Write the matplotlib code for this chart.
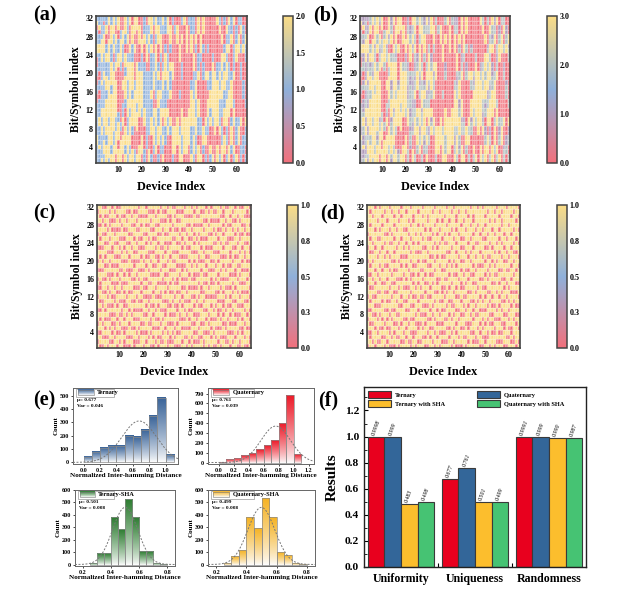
import numpy as np
import matplotlib
matplotlib.use('Agg')
import matplotlib.pyplot as plt
from matplotlib.colors import LinearSegmentedColormap, to_rgb
from matplotlib.patches import Rectangle

plt.rcParams['font.family'] = ['Liberation Serif', 'DejaVu Serif']
plt.rcParams['font.weight'] = 'bold'
plt.rcParams['axes.labelweight'] = 'bold'

# ---------------- data ----------------
# (a) ternary responses, columns = devices 1..64, chars = rows 1..32 (bottom->top)
ternary_cols = [
"11112211 11111001 10011001 22111021", "11121111 22111100 11001111 22110211",
"21111122 11221111 12111122 22211111", "11222111 22221111 11221111 22221101",
"22221122 22222211 22211122 11002211", "12222222 11222222 22111122 22200022",
"22112222 22222221 12222211 11222211", "22221112 22222222 22221100 22112222",
"00222221 11222222 22002211 11220011", "22200222 21100000 00000222 11100222",
"22222001 10000000 00001122 22211000", "00222200 22111000 22000011 11222000",
"22112222 00001122 22211222 00112222", "11222211 11222211 11222211 00221111",
"22112222 22112222 22222211 22000022", "22200011 22222211 22222211 11222200",
"11100000 22222222 11000000 22002222", "22000002 22211222 22222200 00000222",
"22220000 00222222 22221100 00222200", "00222200 00112222 22221111 22200000",
"11100000 22221111 11111100 00221111", "00011111 11111111 11110022 22111100",
"22200011 11111111 11110000 11221122", "11000022 22111122 11111111 22112222",
"00112222 11220000 22221111 00000011", "00221111 22220011 11112222 22112222",
"11002222 11112222 11221100 00222211", "00111122 22221122 11000011 22221111",
"22112211 00221111 22221100 00001122", "00001111 22221111 11222222 11001111",
"00000022 11220011 22221111 00002222", "00000011 22000022 11112200 11222200",
"11222222 00000000 00222200 00000011", "00222222 00000000 00000000 00001100",
"00002222 22000000 00000000 00222200", "22222211 00000011 00000022 22000000",
"22111122 22220000 00111100 00220011", "00222222 22000000 00000000 00000022",
"00222222 22000000 00000000 22222200", "00002222 22220000 00000000 00000011",
"22111111 22222222 11000000 22221111", "11222211 22222211 11112222 00001111",
"00111122 22111122 22110000 11220000", "22220011 11222200 00221111 00002222",
"22000011 11000000 00000011 22220000", "00112222 00000000 00111100 11002222",
"11002211 22000000 00220000 00000000", "00000011 11222200 11220000 11000000",
"11220000 22112222 11110000 00000000", "22000000 11222222 22222211 00000000",
"00000022 22222222 22220000 00000000", "22220000 22222222 22111100 00000022",
"11000022 11111122 11221100 00002211", "22221111 00111122 22112222 00220000",
"00222200 22221111 22221122 11000011", "11001111 22222211 11222211 22112200",
"22220000 00222222 11111100 22111122", "00112222 11002222 22110000 00221111",
"11220000 22221100 00221111 11000022", "22001111 11000000 00000022 22111100",
"00002222 11000000 00000000 22220011", "11110000 22000000 00111100 11002211",
"00111100 00000011 11000000 22111100", "11001111 22001100 00000011 11220000",
]

# (b) quaternary responses, same layout
quaternary_cols = [
"11122311 22221001 10012001 33212031", "21131122 33211100 21002211 33120311",
"32112233 11332211 23111133 33322121", "12333211 33331122 21332211 33331101",
"33332233 33333322 33322133 22003322", "23333333 22333333 33212233 33300033",
"33223333 33333332 23333322 21333322", "33332123 33333333 33332200 33223333",
"00333332 21333333 33003322 12330012", "33300333 32200000 00000333 22200333",
"33333002 20000000 00002233 33322000", "00333300 33122000 33000022 21333000",
"33223333 00002233 33322333 00213333", "12333322 21333322 11333322 00332211",
"33223333 33213333 33333322 33000033", "33300022 33333322 33333321 22333300",
"22100000 33333333 21000000 33003333", "33000003 33322333 33333300 00000333",
"33330000 00333333 33332200 00333300", "00333300 00223333 33332211 33300000",
"22200000 33332211 12221100 00332211", "00012221 22112222 21120033 33221100",
"33300021 12221122 11220000 21332233", "22000033 33221133 22121122 33223333",
"00223333 22330000 33332211 00000022", "00332211 33330022 21123333 33223333",
"22003333 22213333 22332200 00333322", "00221233 33332233 21000022 33332211",
"33223322 00332211 33332200 00002233", "00002211 33332221 12333333 22002211",
"00000033 21330022 33332211 00003333", "00000022 33000033 22213300 22333300",
"22333333 00000000 00333300 00000022", "00333333 00000000 00000000 00002200",
"00003333 33000000 00000000 00333300", "33333322 00000022 00000033 33000000",
"33222233 33330000 00221100 00330022", "00333333 33000000 00000000 00000033",
"00333333 33000000 00000000 33333300", "00003333 33330000 00000000 00000022",
"33221122 33333333 22000000 33332211", "22333322 33333322 21123333 00002211",
"00212233 33221133 33220000 21330000", "33330022 21333300 00332211 00003333",
"33000022 21000000 00000022 33330000", "00223333 00000000 00221100 22003333",
"22003322 33000000 00330000 00000000", "00000022 21333300 22330000 21000000",
"22330000 33223333 21120000 00000000", "33000000 22333333 33333322 00000000",
"00000033 33333333 33330000 00000000", "33330000 33333333 33221100 00000033",
"22000033 21122233 22332200 00003322", "33332211 00221233 33223333 00330000",
"00333300 33332211 33332233 21000022", "22002211 33333322 12333322 33223300",
"33330000 00333333 22211100 33212233", "00223333 22003333 33220000 00332211",
"22330000 33332200 00332211 22000033", "33002211 22000000 00000033 33221100",
"00003333 22000000 00000000 33330022", "22210000 33000000 00221100 22003322",
"00221100 00000022 21000000 33221100", "22002211 33002200 00000022 21330000",
]

# (c) ternary-SHA bits, rows 1..32 (bottom->top), 64 devices per row
ternary_sha_rows = [
"10010111 01100010 11101100 10111011 00011010 11110101 00101110 11001001",
"01111001 10101110 00110111 01001000 11101101 00010111 11011001 01101110",
"11000110 11110001 10111010 10011101 01110010 11001110 10100011 10111010",
"00111101 00101111 01000101 11101010 10011111 00110001 01111100 01010111",
"11101010 11000100 10111110 00110111 01100001 11011110 10001011 11100100",
"01011100 10111011 11001001 11011000 10111110 01100101 11110010 00111011",
"10100011 01101110 00111101 00101111 11000101 10111010 00101101 11010110",
"11111000 10010101 11100110 11110100 01011011 00011101 11010110 10001101",
"00101111 11011010 00011011 01000111 10110100 11110011 01001011 01111010",
"11010001 01100111 11110100 10111001 00101111 01001110 10110100 11000111",
"10011110 10001100 10011011 11100010 11010001 10110111 11000111 00111001",
"01110100 11110111 01100001 00011111 01101110 01011000 00111010 11101110",
"11001011 00101001 11011110 11010100 10011011 11100111 10010111 01010001",
"00110110 11011110 00100111 01111011 11100100 00101101 11101000 10111110",
"10111100 01000111 11011001 10000101 00111111 11010010 01011111 01100011",
"01001011 10111100 10100111 11101110 10100010 01111110 10100001 11011101",
"11110001 01101011 01111100 00110011 11011101 00010011 11011110 00101110",
"00011111 10010001 10001011 11011100 01101011 11101100 01101011 10110001",
"11100100 01111110 11110110 01100111 10000110 10111011 10110100 11001111",
"01011011 11000100 00101101 10111010 01111101 01000110 01011111 01110100",
"10101110 00111011 11010011 00101101 11000011 11011001 11100010 10011011",
"11110001 11010110 01111000 11110110 00111110 00110111 00011110 11101010",
"00011101 10101101 10001111 01001011 11101001 11101000 11110111 00110110",
"11100110 01110011 01110101 10110001 10010111 01011111 00101001 11011001",
"10111011 10001110 10011010 01111110 01101100 10100011 11011100 01101111",
"01001110 11111001 11100111 10010011 11011011 01011100 10110111 10100100",
"11110100 00100111 00111100 11101101 00100110 11110111 01001011 01011011",
"00101011 11011100 11010011 00111110 11111001 00001101 11110100 11110010",
"11011000 10110111 01111101 11000101 10011111 11110010 00011011 00101111",
"10100111 01001101 10000111 01111001 01110000 10011111 11100110 11011000",
"01111010 11110010 01111000 10100111 10001111 01100101 00110111 01111101",
"11001101 00111111 10110111 11011010 01110110 10111010 11101001 10100110",
]

# (d) quaternary-SHA bits
quaternary_sha_rows = [
"01101110 10001011 11010111 00110101 11101000 10111110 01101011 10011101",
"11010011 01111100 10011001 11101110 00110111 11010001 10111100 01110010",
"10111100 11010011 01101110 01011011 11011101 00111011 00011111 11001011",
"00110111 10101110 11000111 10110100 01101011 11100110 11010010 01110111",
"11101001 00111011 01111010 11001111 10010110 01011101 01111011 10100110",
"10011110 11100101 10110001 01111000 11111011 10001110 10100111 00111101",
"01110101 01011110 01001111 10010111 00101101 11110111 01011000 11101011",
"11001011 10110011 11110100 01101101 11010110 01101001 11100111 10011100",
"00111110 01001111 00111011 11011010 01111001 10110110 00111101 01101111",
"11100011 11111001 11001110 00101111 10100111 01011011 11010010 11110100",
"10111101 00110110 01111011 11110100 11001110 11100101 01101111 00101011",
"01001111 11011101 10100100 10011111 01111001 00111110 10110110 11011110",
"11110010 01100111 11011111 01110010 10110111 11001011 11001101 01110001",
"10011111 10111010 00110101 11011110 01011010 01111101 00111111 10101111",
"01101100 11001111 11101011 00101011 11101110 10110011 11110010 11011100",
"11011011 01110001 01011110 11111001 00111101 11011110 01011111 00110111",
"00110111 11011110 11001011 01001111 11010011 01100111 10101001 11111011",
"11101101 10100111 10111100 11110110 01111110 10011011 11011110 01001101",
"10111010 01111101 01100111 10011101 10101011 11110100 01101011 11110110",
"01011111 11001011 11011010 01110111 11010110 01101111 10110101 10011011",
"11110110 10111100 01111111 11001010 01111101 11011011 01001111 01101110",
"10011011 01101111 11010001 10111111 10011011 10101110 11111010 11011001",
"01101101 11110110 10111110 01101011 11101110 01110111 10010111 10110111",
"11011110 10011011 01101011 11110101 00111011 11011001 11101101 01111010",
"10110011 11101101 11011110 10011110 11110110 01101111 00111110 11011101",
"01111110 01011111 10110101 11101011 01011101 11110110 11011011 10110111",
"11101011 10110110 01111111 01011101 11101011 10111011 01110110 11111010",
"10111101 11101111 11011010 11110111 10111110 11101101 10111111 01101111",
"11110111 01111011 10101111 10111010 11011011 01110111 11101011 01111101",
"11011101 11101101 11101110 10111111 01111011 11010111 10111110 11110110",
"10111110 11011011 01111011 11101101 11101101 10111111 11011011 01111011",
"11101011 10111101 11011110 11110111 10110111 11101101 01111101 11011110",
]

# (e) histograms of normalized inter-hamming distance
tern_bins = [0.0, 0.1, 0.2, 0.3, 0.4, 0.5, 0.6, 0.7, 0.8, 0.9, 1.0]
tern_counts = [40, 75, 110, 125, 125, 200, 190, 240, 350, 480, 55]
quat_bins = [0.0, 0.1, 0.2, 0.3, 0.4, 0.5, 0.6, 0.7, 0.8, 0.9, 1.0]
quat_counts = [10, 35, 50, 75, 100, 135, 175, 225, 405, 690, 85]
tsha_bins = [0.25, 0.30, 0.35, 0.40, 0.45, 0.50, 0.55, 0.60, 0.65, 0.70, 0.75]
tsha_counts = [15, 90, 90, 385, 285, 530, 385, 110, 105, 15, 5]
qsha_bins = [0.25, 0.30, 0.35, 0.40, 0.45, 0.50, 0.55, 0.60, 0.65, 0.70, 0.75]
qsha_counts = [15, 70, 115, 385, 290, 535, 385, 100, 80, 10, 3]
hist_names = ['Ternary', 'Quaternary', 'Ternary-SHA', 'Quaternary-SHA']
hist_mu = [0.677, 0.761, 0.501, 0.499]
hist_var = [0.046, 0.039, 0.008, 0.008]
hist_mu_txt = ['0.677', '0.761', '0.501', '0.499']
hist_var_txt = ['0.046', '0.039', '0.008', '0.008']
hist_fit_peak = [310, 370, 460, 460]

# (f) metrics
metrics = ['Uniformity', 'Uniqueness', 'Randomness']
series_names = ['Ternary', 'Quaternary', 'Ternary with SHA', 'Quaternary with SHA']
series_vals = [
    [0.9998, 0.677, 0.9991],
    [0.999, 0.761, 0.999],
    [0.483, 0.501, 0.990],
    [0.498, 0.499, 0.987],
]
series_txt = [
    ['0.9998', '0.677', '0.9991'],
    ['0.999', '0.761', '0.999'],
    ['0.483', '0.501', '0.990'],
    ['0.498', '0.499', '0.987'],
]

# ---------------- figure ----------------
W, H = 642, 597
fig = plt.figure(figsize=(W / 100, H / 100), dpi=100)


def rect(x0, y0, x1, y1):
    return [x0 / W, 1 - y1 / H, (x1 - x0) / W, (y1 - y0) / H]


cmap = LinearSegmentedColormap.from_list('rby', ['#F2707C', '#8FB0DA', '#FADC86'])
frame_col = '#444444'


def cols_to_arr(cols):
    return np.array([[int(c) for c in s.replace(' ', '')] for s in cols]).T


def rows_to_arr(rows):
    return np.array([[int(c) for c in s.replace(' ', '')] for s in rows])


def heatmap(axr, caxr, data, vmax, cticks, clabels):
    ax = fig.add_axes(axr)
    ny, nx = data.shape
    xe = np.arange(nx + 1) + 0.5
    ye = np.arange(ny + 1) + 0.5
    m = ax.pcolormesh(xe, ye, data, cmap=cmap, vmin=0, vmax=vmax,
                      edgecolors=(1, 1, 1, 0.22), linewidth=0.1)
    ax.set_xlim(0.5, nx + 0.5)
    ax.set_ylim(0.5, ny + 0.5)
    ax.set_xticks([10, 20, 30, 40, 50, 60])
    ax.set_yticks([4, 8, 12, 16, 20, 24, 28, 32])
    ax.tick_params(labelsize=5.8, length=0, pad=2)
    for lab in ax.get_xticklabels() + ax.get_yticklabels():
        lab.set_fontweight('bold')
    ax.set_xlabel('Device Index', fontsize=8.8, labelpad=5)
    ax.set_ylabel('Bit/Symbol index', fontsize=8.4, labelpad=2)
    for s in ax.spines.values():
        s.set_color(frame_col)
        s.set_linewidth(1.2)
    cax = fig.add_axes(caxr)
    cb = fig.colorbar(m, cax=cax, ticks=cticks)
    cb.set_ticklabels(clabels)
    cb.outline.set_edgecolor(frame_col)
    cb.outline.set_linewidth(1.1)
    cax.tick_params(labelsize=5.8, length=0, pad=2)
    for lab in cax.get_yticklabels():
        lab.set_fontweight('bold')
    return ax


heatmap(rect(96, 16, 247, 163), rect(283, 16, 293, 163), cols_to_arr(ternary_cols), 2,
        [0, 0.5, 1, 1.5, 2], ['0.0', '0.5', '1.0', '1.5', '2.0'])
heatmap(rect(360, 16, 510, 163), rect(547, 16, 557, 163), cols_to_arr(quaternary_cols), 3,
        [0, 1, 2, 3], ['0.0', '1.0', '2.0', '3.0'])
heatmap(rect(97, 205, 251, 348), rect(287, 205, 298, 348), rows_to_arr(ternary_sha_rows), 1,
        [0, 0.25, 0.5, 0.75, 1], ['0.0', '0.3', '0.5', '0.8', '1.0'])
heatmap(rect(367, 205, 520, 348), rect(557, 205, 567, 348), rows_to_arr(quaternary_sha_rows), 1,
        [0, 0.25, 0.5, 0.75, 1], ['0.0', '0.3', '0.5', '0.8', '1.0'])

# ---------------- (e) histograms ----------------
hist_colors = ['#3A6499', '#EC1C2A', '#2E7D32', '#F5B325']
hist_data = [(tern_bins, tern_counts, 0.1), (quat_bins, quat_counts, 0.1),
             (tsha_bins, tsha_counts, 0.05), (qsha_bins, qsha_counts, 0.05)]
hist_rects = [rect(73, 388, 178, 464), rect(208, 388, 314, 464),
              rect(75, 490, 175, 566), rect(208, 490, 315, 566)]
hist_xlim = [(-0.13, 1.15), (-0.14, 1.27), (0.146, 0.854), (0.146, 0.854)]
hist_ylim = [(-12, 557), (-15, 757), (-12, 600), (-12, 600)]
hist_xticks = [[0.0, 0.2, 0.4, 0.6, 0.8, 1.0], [0.0, 0.2, 0.4, 0.6, 0.8, 1.0, 1.2],
               [0.2, 0.4, 0.6, 0.8], [0.2, 0.4, 0.6, 0.8]]
hist_yticks = [[0, 100, 200, 300, 400, 500], [0, 100, 200, 300, 400, 500, 600, 700],
               [0, 100, 200, 300, 400, 500, 600], [0, 100, 200, 300, 400, 500, 600]]


def gradient(color):
    c = np.array(to_rgb(color))
    t = np.linspace(0, 1, 64)[:, None] ** 0.8
    g = (1 - t) * np.ones(3) * 0.99 + t * c
    return g[:, None, :]


for i in range(4):
    ax = fig.add_axes(hist_rects[i])
    bins, counts, bw = hist_data[i]
    grad = gradient(hist_colors[i])
    for b, h in zip(bins, counts):
        ax.imshow(grad, extent=(b, b + bw, 0, h), origin='lower', aspect='auto',
                  interpolation='bilinear', zorder=2)
        ax.add_patch(Rectangle((b, 0), bw, h, fill=False, edgecolor='#8a8a8a',
                               linewidth=0.5, zorder=3))
    xs = np.linspace(hist_xlim[i][0], hist_xlim[i][1], 300)
    ax.plot(xs, hist_fit_peak[i] * np.exp(-(xs - hist_mu[i]) ** 2 / (2 * hist_var[i])),
            color='#777777', lw=0.7, ls=(0, (2, 1.6)), zorder=4)
    ax.set_xticks(hist_xticks[i])
    ax.set_yticks(hist_yticks[i])
    ax.tick_params(labelsize=4.4, length=1.5, width=0.5, pad=1.2, direction='out')
    for lab in ax.get_xticklabels() + ax.get_yticklabels():
        lab.set_fontweight('bold')
    ax.set_xlabel('Normalized Inter-hamming Distance', fontsize=5.1, labelpad=0.5)
    ax.set_ylabel('Count', fontsize=5.1, labelpad=1)
    for s in ax.spines.values():
        s.set_color('#666666')
        s.set_linewidth(0.7)
    # legend-like box
    ax.add_patch(Rectangle((0.03, 0.885), 0.36 if i % 2 == 0 else 0.40, 0.105,
                           transform=ax.transAxes, fill=True, facecolor='white',
                           edgecolor='#999999', linewidth=0.5, zorder=5))
    ax.imshow(grad, extent=(0.05, 0.20, 0.905, 0.975), origin='lower',
              aspect='auto', transform=ax.transAxes, zorder=6)
    ax.add_patch(Rectangle((0.05, 0.905), 0.15, 0.07, transform=ax.transAxes,
                           fill=False, edgecolor='#777777', linewidth=0.4, zorder=7))
    ax.text(0.23, 0.94, hist_names[i], transform=ax.transAxes, fontsize=4.6,
            va='center', ha='left', zorder=8)
    ax.text(0.04, 0.84, '\u03bc= ' + hist_mu_txt[i], transform=ax.transAxes,
            fontsize=3.8, va='center', ha='left', zorder=8)
    ax.text(0.04, 0.76, 'Var = ' + hist_var_txt[i], transform=ax.transAxes,
            fontsize=3.8, va='center', ha='left', zorder=8)
    ax.set_xlim(*hist_xlim[i])
    ax.set_ylim(*hist_ylim[i])

# ---------------- (f) bar chart ----------------
axf = fig.add_axes(rect(364, 387, 586, 567))
bar_colors = ['#E8001E', '#336699', '#FCBE2D', '#46C373']
bw = 0.225
xg = np.arange(len(metrics))
handles = []
for k in range(4):
    xs = xg + (k - 1.5) * bw
    bars = axf.bar(xs, series_vals[k], width=bw, color=bar_colors[k],
                   edgecolor='#3a3a3a', linewidth=0.8, label=series_names[k], zorder=2)
    handles.append(bars)
    for x, v, t in zip(xs, series_vals[k], series_txt[k]):
        axf.text(x - 0.035, v + 0.012, t, rotation=70, rotation_mode='anchor',
                 ha='left', va='center', fontsize=4.2, style='italic', fontweight='normal')
axf.set_xlim(-0.5, 2.5)
axf.set_ylim(0, 1.38)
axf.set_xticks(xg)
axf.set_xticklabels(metrics, fontsize=8.6, fontweight='bold')
axf.set_xticks([0.5, 1.5], minor=True)
axf.tick_params(axis='x', which='major', length=0, pad=4)
axf.tick_params(axis='x', which='minor', length=3, direction='in', width=0.8)
axf.set_yticks([0.0, 0.2, 0.4, 0.6, 0.8, 1.0, 1.2])
axf.set_yticks(np.arange(0.1, 1.35, 0.2), minor=True)
axf.set_yticklabels(['0.0', '0.2', '0.4', '0.6', '0.8', '1.0', '1.2'], fontsize=8.2,
                    fontweight='bold')
axf.tick_params(axis='y', which='major', length=3, direction='in', width=0.8)
axf.tick_params(axis='y', which='minor', length=1.8, direction='in', width=0.6)
axf.set_ylabel('Results', fontsize=11, labelpad=4)
for s in axf.spines.values():
    s.set_color('#222222')
    s.set_linewidth(1.0)
order = [0, 2, 1, 3]
axf.legend([handles[j] for j in order], [series_names[j] for j in order],
           ncol=2, loc='upper left', bbox_to_anchor=(0.0, 1.0), fontsize=4.6,
           frameon=False, handlelength=3.6, handleheight=1.3,
           columnspacing=5.0, borderaxespad=0.3, labelspacing=0.25,
           handletextpad=0.6)

# ---------------- panel labels ----------------
def plabel(x, y, s):
    fig.text(x / W, 1 - y / H, s, fontsize=14.5, fontweight='bold', va='center', ha='left')

plabel(33, 15, '(a)')
plabel(313, 15, '(b)')
plabel(33, 213, '(c)')
plabel(320, 213, '(d)')
plabel(33, 400, '(e)')
plabel(318, 400, '(f)')

fig.savefig('out.png', dpi=100)
